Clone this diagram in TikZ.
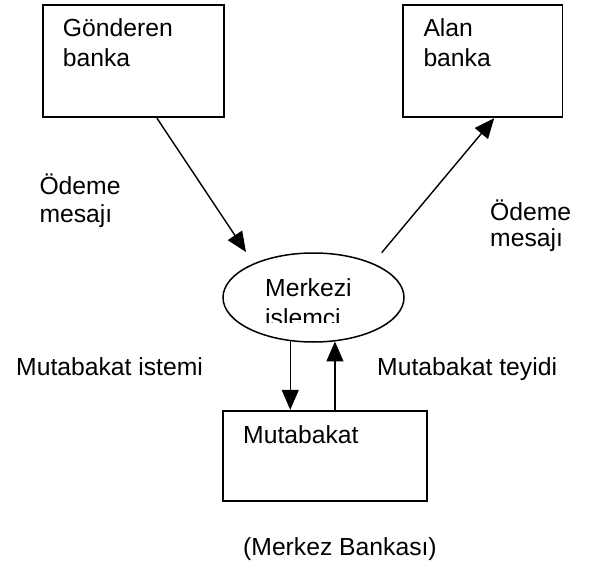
\documentclass[tikz,border=0pt]{standalone}
\usepackage{fontspec}
\setmainfont{Liberation Sans}
\usetikzlibrary{arrows.meta,shapes.geometric,calc}
\begin{document}
\begin{tikzpicture}[x=1pt,y=-1pt,
  box/.style={draw,line width=1.8pt,rectangle,inner sep=0pt},
  oval/.style={draw,line width=1.5pt,ellipse,inner sep=0pt},
  lbl/.style={anchor=base west,inner sep=0pt,font=\fontsize{24.7}{29}\selectfont},
  arr/.style={line width=1.4pt,-{Triangle[length=20pt,width=17pt]}}]
\useasboundingbox[fill=white] (0,0) rectangle (592,567);
% boxes
\node[box,minimum width=181pt,minimum height=112.6pt] (gb) at (133.2,61) {};
\node[box,minimum width=159.2pt,minimum height=112.6pt] (ab) at (482.9,61) {};
\node[box,minimum width=204.3pt,minimum height=90pt] (mb) at (325.2,455.7) {};
\node[oval,minimum width=181pt,minimum height=89pt] (el) at (313.5,297.5) {};
% box texts
\node[lbl] (gb1) at (62.7,37) {Gönderen};
\node[lbl] (gb2) at (62.7,66.5) {banka};
\node[lbl] (ab1) at (423.3,37) {Alan};
\node[lbl] (ab2) at (423.3,66.5) {banka};
\node[lbl] (mbt) at (243,443) {Mutabakat};
\node[lbl] (el1) at (265,296.7) {Merkezi};
\begin{scope}
\clip (0,0) rectangle (592,322);
\node[lbl] (el2) at (265,326) {islemci};
\end{scope}
% labels
\node[lbl] (l1a) at (39.3,195) {Ödeme};
\node[lbl] (l1b) at (39.3,222.5) {mesajı};
\node[lbl] (l2a) at (490,220) {Ödeme};
\node[lbl] (l2b) at (490,246.7) {mesajı};
\node[lbl] (l3) at (16,375) {Mutabakat istemi};
\node[lbl] (l4) at (377,375) {Mutabakat teyidi};
\node[lbl] (l5) at (243,555) {(Merkez Bankası)};
% connectors
\coordinate (t1) at ($(el.center)+(-67.5,-45.5)$);
\coordinate (s2) at ($(el.center)+(68.2,-44.8)$);
\draw[arr] ($(gb.south west)!0.63!(gb.south east)$) -- (t1);
\draw[arr] (s2) -- ($(ab.south west)!0.57!(ab.south east)$);
\draw[arr] (el.242.4) -- (el.242.4 |- mb.north);
\draw[arr] (el.296.5 |- mb.north) -- (el.296.5);
\end{tikzpicture}
\end{document}
